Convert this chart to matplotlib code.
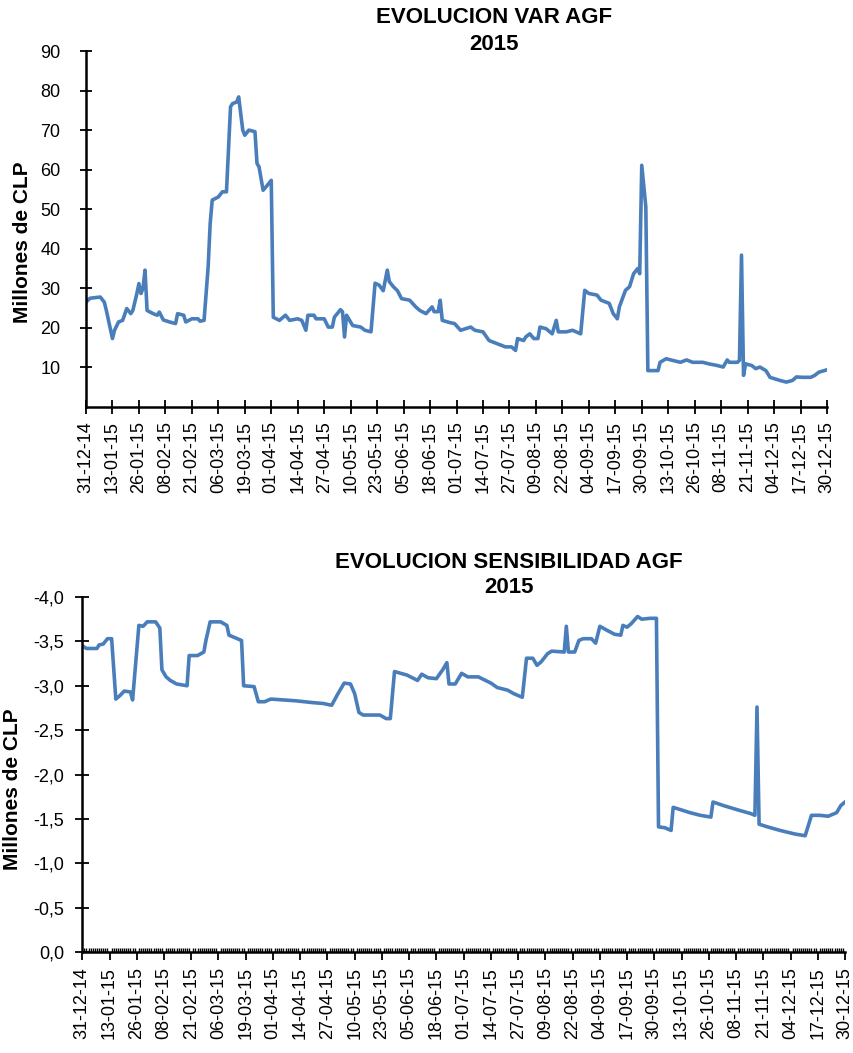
import numpy as np
import pandas as pd
import matplotlib
matplotlib.use("Agg")
import matplotlib.pyplot as plt

plt.rcParams['font.family'] = ['Liberation Sans', 'DejaVu Sans']

# ---------------- data ----------------
start = np.datetime64('2014-12-31')

var_days = [0, 2, 7, 9, 10, 13, 14, 16, 18, 20, 22, 23, 25, 26, 27, 28, 29, 30, 33, 35,
            36, 38, 41, 44, 45, 48, 49, 52, 55, 56, 58, 60, 61, 62, 65, 67, 69, 71, 72, 74,
            75, 77, 78, 80, 83, 84, 85, 87, 89, 91, 92, 95, 98, 100, 104, 106, 108, 109, 112, 113,
            117, 119, 121, 122, 125, 126, 127, 128, 130, 131, 135, 137, 140, 142, 144, 146, 148, 149, 151, 153,
            155, 159, 162, 164, 167, 170, 171, 173, 174, 175, 179, 181, 184, 189, 191, 195, 198, 202, 206, 209,
            211, 212, 215, 216, 218, 220, 222, 223, 226, 229, 231, 232, 236, 239, 243, 245, 247, 251, 253, 257,
            259, 261, 262, 265, 267, 269, 271, 272, 273, 275, 276, 281, 282, 285, 288, 292, 295, 298, 303, 306,
            310, 313, 315, 316, 320, 321, 322, 323, 324, 327, 329, 331, 334, 336, 341, 344, 347, 349, 352, 356,
            358, 360, 364]
var_values = [26.5, 27.5, 27.8, 26.5, 24.4, 17.3, 19.4, 21.5, 21.9, 24.9, 23.6, 24.4, 28.7, 31.2, 28.7, 30.0, 34.6, 24.4, 23.6, 23.2,
              24.0, 22.0, 21.5, 21.1, 23.6, 23.2, 21.5, 22.3, 22.3, 21.7, 21.9, 35.4, 46.4, 52.3, 53.1, 54.4, 54.4, 75.9, 76.7, 77.1,
              78.4, 70.0, 68.7, 70.0, 69.6, 61.6, 60.7, 54.8, 56.0, 57.3, 22.7, 21.9, 23.2, 21.9, 22.3, 21.9, 19.4, 23.2, 23.2, 22.3,
              22.3, 20.2, 20.2, 22.7, 24.6, 24.1, 17.7, 23.2, 21.5, 20.6, 20.2, 19.4, 19.0, 31.3, 30.8, 29.4, 34.6, 31.7, 30.4, 29.4,
              27.4, 27.0, 25.3, 24.4, 23.6, 25.3, 24.1, 24.1, 27.0, 21.9, 21.3, 21.1, 19.4, 20.2, 19.4, 19.0, 16.8, 16.0, 15.2, 15.2,
              14.3, 17.3, 16.8, 17.7, 18.5, 17.3, 17.3, 20.2, 19.8, 18.5, 21.9, 19.0, 19.0, 19.4, 18.5, 29.5, 28.7, 28.3, 27.0, 26.2,
              23.6, 22.3, 25.3, 29.5, 30.4, 33.7, 35.0, 33.7, 61.1, 50.6, 9.2, 9.2, 11.3, 12.2, 11.8, 11.3, 11.9, 11.3, 11.3, 10.9,
              10.5, 10.1, 11.9, 11.3, 11.3, 11.8, 38.4, 8.0, 10.9, 10.5, 9.7, 10.1, 9.2, 7.5, 6.7, 6.3, 6.7, 7.6, 7.5, 7.5,
              8.0, 8.8, 9.4]

sens_days = [0, 2, 7, 8, 10, 12, 14, 16, 18, 20, 23, 24, 27, 29, 31, 35, 37, 38, 40, 42,
             45, 50, 51, 55, 58, 59, 61, 66, 69, 70, 74, 76, 77, 82, 84, 87, 90, 96, 102, 110,
             115, 119, 122, 125, 128, 130, 132, 134, 142, 145, 147, 149, 152, 155, 160, 162, 165, 169, 172, 174,
             175, 178, 181, 184, 189, 195, 198, 203, 206, 210, 212, 215, 217, 219, 222, 224, 230, 231, 232, 235,
             237, 239, 243, 245, 247, 250, 254, 257, 258, 260, 262, 265, 267, 271, 274, 275, 278, 281, 282, 286,
             290, 295, 300, 301, 306, 313, 319, 321, 322, 323, 327, 333, 340, 345, 348, 352, 356, 360, 362, 364]
sens_values = [-3.45, -3.42, -3.42, -3.46, -3.47, -3.53, -3.53, -2.85, -2.89, -2.94, -2.93, -2.84, -3.68, -3.67, -3.72, -3.72, -3.65, -3.18, -3.10, -3.06,
               -3.02, -3.00, -3.34, -3.34, -3.38, -3.51, -3.72, -3.72, -3.68, -3.57, -3.53, -3.51, -3.00, -2.99, -2.82, -2.82, -2.85, -2.84, -2.83, -2.81,
               -2.80, -2.78, -2.91, -3.03, -3.02, -2.91, -2.70, -2.67, -2.67, -2.63, -2.63, -3.16, -3.14, -3.12, -3.06, -3.13, -3.09, -3.08, -3.18, -3.26,
               -3.02, -3.02, -3.14, -3.10, -3.10, -3.03, -2.98, -2.95, -2.91, -2.87, -3.31, -3.31, -3.23, -3.27, -3.36, -3.39, -3.38, -3.67, -3.38, -3.38,
               -3.51, -3.53, -3.53, -3.48, -3.67, -3.63, -3.58, -3.57, -3.68, -3.66, -3.70, -3.78, -3.75, -3.76, -3.76, -1.41, -1.40, -1.37, -1.63, -1.60,
               -1.57, -1.54, -1.52, -1.69, -1.65, -1.60, -1.56, -1.54, -2.76, -1.44, -1.41, -1.37, -1.33, -1.31, -1.54, -1.54, -1.53, -1.57, -1.65, -1.69]

tick_labels = ['31-12-14', '13-01-15', '26-01-15', '08-02-15', '21-02-15', '06-03-15', '19-03-15',
               '01-04-15', '14-04-15', '27-04-15', '10-05-15', '23-05-15', '05-06-15', '18-06-15',
               '01-07-15', '14-07-15', '27-07-15', '09-08-15', '22-08-15', '04-09-15', '17-09-15',
               '30-09-15', '13-10-15', '26-10-15', '08-11-15', '21-11-15', '04-12-15', '17-12-15',
               '30-12-15']

var_ticks = [10, 20, 30, 40, 50, 60, 70, 80, 90]
sens_ticks = [0.0, -0.5, -1.0, -1.5, -2.0, -2.5, -3.0, -3.5, -4.0]

# ---------------- figure ----------------
W, H = 854, 1053
fig = plt.figure(figsize=(W / 100, H / 100), dpi=100)
line_color = '#4A7EBB'

tick_dates = pd.to_datetime(tick_labels, format='%d-%m-%y')
var_dates = pd.to_datetime(start + np.array(var_days, dtype='timedelta64[D]'))
sens_dates = pd.to_datetime(start + np.array(sens_days, dtype='timedelta64[D]'))
all_days = pd.date_range(tick_dates[0], tick_dates[-1], freq='D')


def style_axes(ax):
    for s in ('top', 'right'):
        ax.spines[s].set_visible(False)
    for s in ('left', 'bottom'):
        ax.spines[s].set_linewidth(1.8)
        ax.spines[s].set_color('black')


# ---- top chart: VaR ----
ax1 = fig.add_axes([86 / W, 1 - 407 / H, 741 / W, 356 / H])
ax1.plot(var_dates, var_values, color=line_color, lw=2.6, solid_joinstyle='round')
ax1.set_xlim(tick_dates[0], tick_dates[-1])
ax1.set_ylim(0, 90)
ax1.set_yticks(var_ticks)
ax1.set_yticklabels([str(v) for v in var_ticks])
ax1.set_xticks(tick_dates)
ax1.set_xticklabels(tick_labels, rotation=90)
style_axes(ax1)
ax1.tick_params(axis='y', direction='inout', length=9, width=1.3, pad=14, labelsize=13)
ax1.tick_params(axis='x', direction='inout', length=9.5, width=1.3, pad=5.5, labelsize=13)

fig.text(494 / W, 1 - 17.5 / H, 'EVOLUCION VAR AGF', ha='center', va='center',
         fontsize=16, fontweight='bold')
fig.text(494 / W, 1 - 45 / H, '2015', ha='center', va='center',
         fontsize=16, fontweight='bold')
fig.text(23 / W, 1 - 242.5 / H, 'Millones de CLP', ha='center', va='center',
         rotation=90, fontsize=15, fontweight='bold')

# ---- bottom chart: Sensibilidad ----
ax2 = fig.add_axes([82.3 / W, 1 - 952 / H, 762.7 / W, 355 / H])
ax2.plot(sens_dates, sens_values, color=line_color, lw=2.6, solid_joinstyle='round')
ax2.set_xlim(tick_dates[0], tick_dates[-1])
ax2.set_ylim(0, -4.0)
ax2.set_yticks(sens_ticks)
ax2.set_yticklabels([f'{v:.1f}'.replace('.', ',') for v in sens_ticks])
ax2.set_xticks(tick_dates)
ax2.set_xticklabels(tick_labels, rotation=90)
ax2.set_xticks(all_days, minor=True)
style_axes(ax2)
ax2.tick_params(axis='y', direction='inout', length=9.5, width=1.3, pad=8.5, labelsize=13)
ax2.tick_params(axis='x', which='major', direction='out', length=5.5, width=1.3, pad=5.5, labelsize=13)
ax2.tick_params(axis='x', which='minor', direction='in', length=3, width=1.0)

fig.text(509 / W, 1 - 562.5 / H, 'EVOLUCION SENSIBILIDAD AGF', ha='center', va='center',
         fontsize=16, fontweight='bold')
fig.text(509 / W, 1 - 587.5 / H, '2015', ha='center', va='center',
         fontsize=16, fontweight='bold')
fig.text(12.5 / W, 1 - 789 / H, 'Millones de CLP', ha='center', va='center',
         rotation=90, fontsize=15, fontweight='bold')

fig.savefig('out.png', dpi=100, facecolor='white')
